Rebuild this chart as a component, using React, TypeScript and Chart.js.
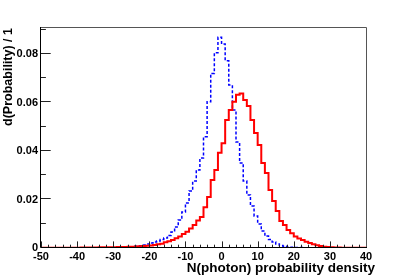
import React, { useEffect, useRef } from "react";
import { Chart, registerables } from "chart.js";

Chart.register(...registerables);

// Bin lower edges: 90 bins of width 1 from -50 to 40
const binStart = -50;
const binCount = 90;

// Red (solid) histogram contents, one per bin from -50 to 39
const redValues = [
  0.0001, 0.0001, 0.0001, 0.0001, 0.0001, 0.0001, 0.0001, 0.0001, 0.0001, 0.0001,
  0.0001, 0.0002, 0.0002, 0.0002, 0.0002, 0.0002, 0.0003, 0.0003, 0.0003, 0.0003,
  0.0003, 0.0004, 0.0004, 0.0004, 0.0005, 0.0005, 0.0006, 0.0007, 0.0008, 0.0009,
  0.001, 0.0012, 0.0015, 0.0018, 0.0024, 0.0028, 0.0033, 0.004, 0.0047, 0.0058,
  0.0067, 0.008, 0.0095, 0.0113, 0.0128, 0.0168, 0.021, 0.028, 0.0322, 0.0393,
  0.0432, 0.0528, 0.0569, 0.0603, 0.0632, 0.0637, 0.061, 0.0586, 0.0528, 0.0474,
  0.0425, 0.0351, 0.0309, 0.0239, 0.0194, 0.0153, 0.0111, 0.0095, 0.0074, 0.0061,
  0.0047, 0.0039, 0.0033, 0.0026, 0.0021, 0.0015, 0.0011, 0.0008, 0.0005, 0.0004,
  0.0003, 0.0002, 0.0002, 0.0001, 0.0001, 0.0001, 0.0001, 0.0001, 0.0001, 0.0001,
];

// Blue (dashed) histogram contents, one per bin from -50 to 39
const blueValues = [
  0, 0, 0, 0, 0, 0, 0, 0, 0, 0,
  0, 0, 0, 0, 0, 0.0001, 0.0001, 0.0001, 0.0001, 0.0001,
  0.0001, 0.0002, 0.0002, 0.0003, 0.0003, 0.0004, 0.0007, 0.0009, 0.0012, 0.0016,
  0.0021, 0.0025, 0.0029, 0.0035, 0.0041, 0.0052, 0.0066, 0.0087, 0.0115, 0.0148,
  0.0186, 0.0235, 0.0276, 0.0322, 0.0371, 0.0459, 0.0603, 0.072, 0.0805, 0.0869,
  0.0841, 0.0772, 0.0672, 0.0569, 0.0437, 0.0351, 0.0276, 0.0219, 0.0173, 0.0132,
  0.0099, 0.007, 0.0049, 0.0035, 0.0025, 0.0016, 0.001, 0.0007, 0.0004, 0.0003,
  0.0002, 0.0002, 0.0002, 0.0001, 0.0001, 0.0001, 0.0001, 0.0001, 0.0001, 0.0001,
  0, 0, 0, 0, 0, 0, 0, 0, 0, 0,
];

const xTickValues = [-50, -40, -30, -20, -10, 0, 10, 20, 30, 40];
const yTickValues = [0, 0.02, 0.04, 0.06, 0.08];

const xTitle = "N(photon) probability density";
const yTitle = "d(Probability) / 1";

const X_MIN = -50;
const X_MAX = 40;
const Y_MAX = 0.09113;

function stepPoints(values: number[]) {
  const pts = values.map((v, i) => ({ x: binStart + i, y: v }));
  pts.push({ x: binStart + binCount, y: values[values.length - 1] });
  return pts;
}

const FONT = '"Liberation Sans", Arial, sans-serif';

const framePlugin = {
  id: "rootFrame",
  afterDraw(chart: any) {
    const { ctx, chartArea } = chart;
    const xs = chart.scales.x;
    const ys = chart.scales.y;
    const { left, right, top, bottom } = chartArea;
    ctx.save();
    // ticks (inward)
    ctx.strokeStyle = "#222";
    ctx.lineWidth = 1;
    ctx.beginPath();
    for (let v = X_MIN; v <= X_MAX; v += 2) {
      const px = Math.round(xs.getPixelForValue(v)) + 0.5;
      const len = v % 10 === 0 ? 6.6 : 3.3;
      ctx.moveTo(px, bottom);
      ctx.lineTo(px, bottom - len);
    }
    for (let k = 0; k <= 9; k++) {
      const v = k * 0.01;
      const py = Math.round(ys.getPixelForValue(v)) - 0.5;
      const len = k % 2 === 0 ? 9.7 : 4.9;
      ctx.moveTo(left, py);
      ctx.lineTo(left + len, py);
    }
    ctx.stroke();
    // frame
    ctx.strokeStyle = "#555";
    ctx.beginPath();
    ctx.moveTo(left - 0.5, top + 0.5);
    ctx.lineTo(right + 0.5, top + 0.5);
    ctx.lineTo(right + 0.5, bottom - 0.5);
    ctx.stroke();
    ctx.strokeStyle = "#000";
    ctx.beginPath();
    ctx.moveTo(left - 0.5, top);
    ctx.lineTo(left - 0.5, bottom - 0.5);
    ctx.lineTo(right + 1, bottom - 0.5);
    ctx.stroke();
    // titles
    ctx.fillStyle = "#000";
    ctx.font = `bold 13.5px ${FONT}`;
    ctx.textAlign = "right";
    ctx.textBaseline = "alphabetic";
    ctx.fillText(xTitle, 375, 272);
    ctx.translate(12, 28);
    ctx.rotate(-Math.PI / 2);
    ctx.font = `bold 12.5px ${FONT}`;
    ctx.fillText(yTitle, 0, 0);
    ctx.restore();
  },
};

export default function App() {
  const ref = useRef<HTMLCanvasElement | null>(null);
  useEffect(() => {
    if (!ref.current) return;
    const chart = new Chart(ref.current, {
      type: "line",
      data: {
        datasets: [
          {
            data: stepPoints(redValues),
            borderColor: "rgb(255,0,0)",
            borderWidth: 2,
            stepped: true,
            pointRadius: 0,
            fill: false,
          },
          {
            data: stepPoints(blueValues),
            borderColor: "rgb(0,0,255)",
            borderWidth: 1.5,
            borderDash: [3, 2],
            stepped: true,
            pointRadius: 0,
            fill: false,
          },
        ],
      },
      options: {
        animation: false,
        responsive: false,
        events: [],
        layout: { padding: { top: 27, right: 41, left: 0, bottom: 0 } },
        plugins: { legend: { display: false }, tooltip: { enabled: false } },
        scales: {
          x: {
            type: "linear",
            min: X_MIN,
            max: X_MAX,
            afterFit: (s: any) => {
              s.height = 28;
            },
            afterBuildTicks: (s: any) => {
              s.ticks = xTickValues.map((v) => ({ value: v }));
            },
            ticks: {
              autoSkip: false,
              maxRotation: 0,
              minRotation: 0,
              padding: 2,
              color: "#000",
              font: { family: FONT, size: 11, weight: "bold" },
              callback: (v: any) => String(v),
            },
            grid: { display: false, drawTicks: false },
            border: { display: false },
          },
          y: {
            type: "linear",
            min: 0,
            max: Y_MAX,
            afterFit: (s: any) => {
              s.width = 41;
            },
            afterBuildTicks: (s: any) => {
              s.ticks = yTickValues.map((v) => ({ value: v }));
            },
            ticks: {
              autoSkip: false,
              padding: 3,
              color: "#000",
              font: { family: FONT, size: 11, weight: "bold" },
              callback: (v: any) => (v === 0 ? "0" : Number(v).toFixed(2)),
            },
            grid: { display: false, drawTicks: false },
            border: { display: false },
          },
        },
      },
      plugins: [framePlugin],
    } as any);
    return () => chart.destroy();
  }, []);
  return (
    <div style={{ position: "absolute", left: 0, top: 0, width: 407, height: 276, background: "#fff" }}>
      <canvas ref={ref} width={407} height={276} style={{ display: "block" }} />
    </div>
  );
}
